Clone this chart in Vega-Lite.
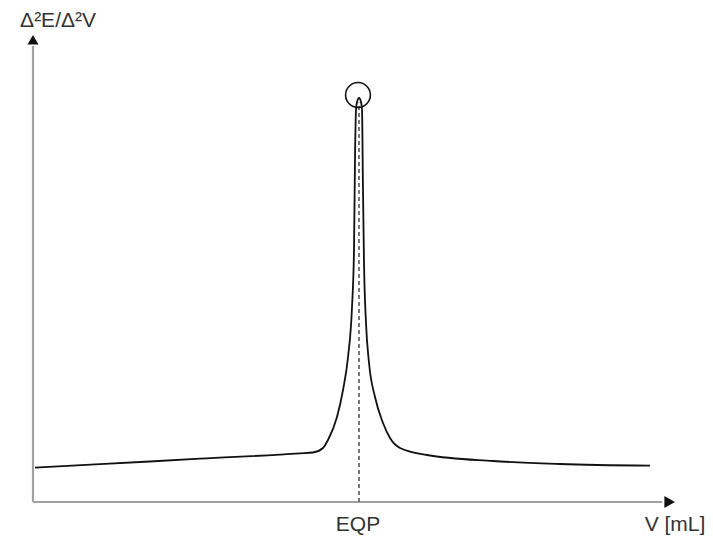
{
  "$schema": "https://vega.github.io/schema/vega-lite/v6.json",
  "width": 642,
  "height": 470,
  "autosize": {"type": "none"},
  "padding": {"left": 33, "top": 32, "right": 38, "bottom": 42},
  "background": "white",
  "config": {"view": {"stroke": null}},
  "layer": [
    {
      "data": {"values": [
        {"x1": 0, "y1": 0, "x2": 0, "y2": 97.0},
        {"x1": 0, "y1": 0, "x2": 98.0, "y2": 0}
      ]},
      "mark": {"type": "rule", "color": "#a0a0a0", "strokeWidth": 2.2},
      "encoding": {
        "x": {"field": "x1", "type": "quantitative", "scale": {"domain": [0, 100], "nice": false, "zero": false}, "axis": null},
        "y": {"field": "y1", "type": "quantitative", "scale": {"domain": [0, 100], "nice": false, "zero": false}, "axis": null},
        "x2": {"field": "x2"},
        "y2": {"field": "y2"}
      }
    },
    {
      "data": {"values": [{"x": 0, "y": 98.34}]},
      "mark": {"type": "point", "shape": "triangle-up", "size": 121, "filled": true, "color": "#111", "opacity": 1},
      "encoding": {
        "x": {"field": "x", "type": "quantitative"},
        "y": {"field": "y", "type": "quantitative"}
      }
    },
    {
      "data": {"values": [{"x": 99.17, "y": 0}]},
      "mark": {"type": "point", "shape": "triangle-right", "size": 150, "filled": true, "color": "#111", "opacity": 1},
      "encoding": {
        "x": {"field": "x", "type": "quantitative"},
        "y": {"field": "y", "type": "quantitative"}
      }
    },
    {
      "data": {"values": [{"x": 50.78, "y": 0, "y2": 85}]},
      "mark": {"type": "rule", "color": "#777", "strokeWidth": 2, "strokeDash": [4, 3]},
      "encoding": {
        "x": {"field": "x", "type": "quantitative"},
        "y": {"field": "y", "type": "quantitative"},
        "y2": {"field": "y2"}
      }
    },
    {
      "data": {"values": [
        {"v": 0.31, "d": 7.30},
        {"v": 10.44, "d": 8.04},
        {"v": 26.01, "d": 9.21},
        {"v": 41.59, "d": 10.34},
        {"v": 43.61, "d": 10.53},
        {"v": 45.17, "d": 11.49},
        {"v": 45.95, "d": 13.19},
        {"v": 47.35, "d": 18.09},
        {"v": 48.29, "d": 23.83},
        {"v": 49.07, "d": 30.85},
        {"v": 49.69, "d": 41.49},
        {"v": 50.00, "d": 53.62},
        {"v": 50.16, "d": 73.40},
        {"v": 50.31, "d": 83.40},
        {"v": 50.47, "d": 85.11},
        {"v": 50.78, "d": 85.96},
        {"v": 51.09, "d": 85.11},
        {"v": 51.25, "d": 83.40},
        {"v": 51.40, "d": 66.38},
        {"v": 51.56, "d": 50.85},
        {"v": 51.87, "d": 38.09},
        {"v": 52.34, "d": 29.57},
        {"v": 53.27, "d": 22.34},
        {"v": 54.52, "d": 16.81},
        {"v": 55.61, "d": 13.62},
        {"v": 57.17, "d": 11.49},
        {"v": 61.37, "d": 10.00},
        {"v": 71.65, "d": 8.72},
        {"v": 82.09, "d": 8.09},
        {"v": 96.11, "d": 7.72}
      ]},
      "mark": {"type": "line", "color": "#111", "strokeWidth": 1.8, "interpolate": "monotone"},
      "encoding": {
        "x": {"field": "v", "type": "quantitative"},
        "y": {"field": "d", "type": "quantitative"}
      }
    },
    {
      "data": {"values": [{"x": 50.62, "y": 86.6}]},
      "mark": {"type": "point", "shape": "circle", "size": 616, "filled": false, "color": "#111", "strokeWidth": 1.6, "opacity": 1},
      "encoding": {
        "x": {"field": "x", "type": "quantitative"},
        "y": {"field": "y", "type": "quantitative"}
      }
    },
    {
      "data": {"values": [
        {"x": 3.9, "y": 102.3, "t": "Δ²E/Δ²V"},
        {"x": 50.62, "y": -4.79, "t": "EQP"},
        {"x": 100, "y": -4.79, "t": "V [mL]"}
      ]},
      "mark": {"type": "text", "font": "Liberation Sans", "fontSize": 21, "color": "#333", "align": "center", "baseline": "middle"},
      "encoding": {
        "x": {"field": "x", "type": "quantitative"},
        "y": {"field": "y", "type": "quantitative"},
        "text": {"field": "t"}
      }
    }
  ]
}
